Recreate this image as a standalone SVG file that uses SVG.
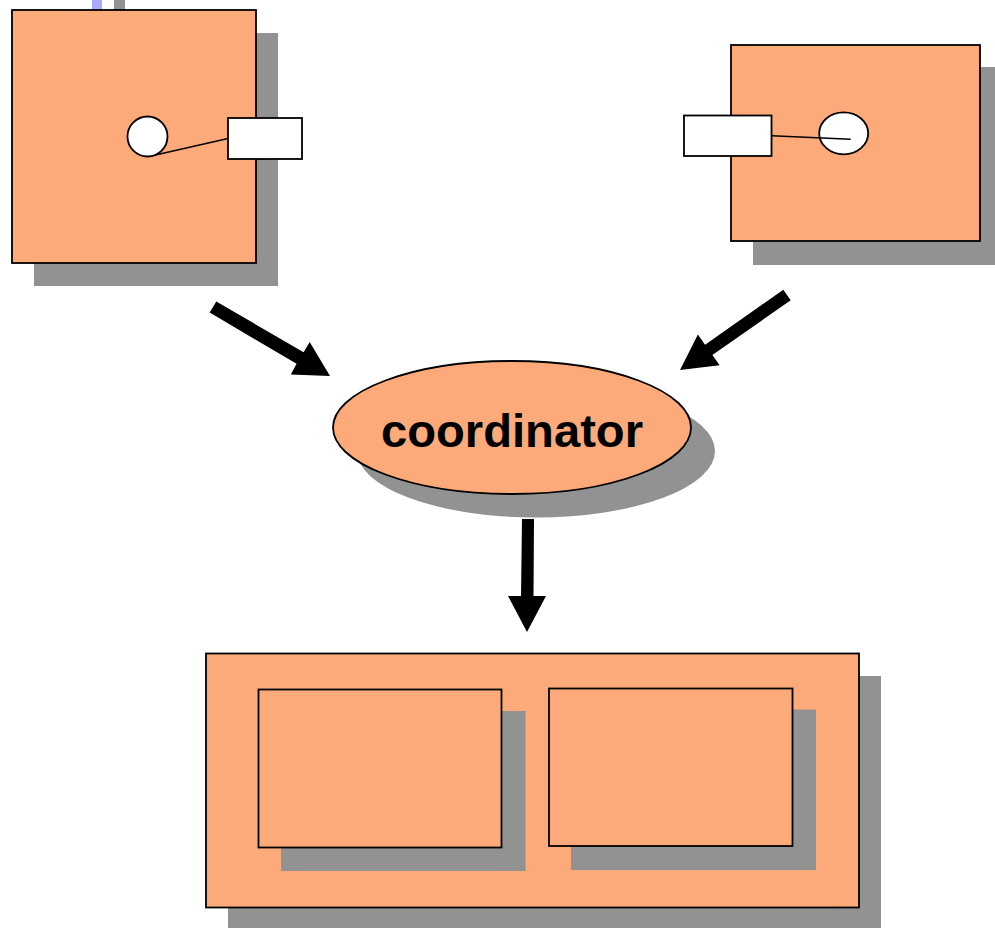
<svg xmlns="http://www.w3.org/2000/svg" width="995" height="928" viewBox="0 0 995 928">
<style>
.sh{fill:#929292;stroke:none}
.box{fill:#fcaa79;stroke:#000;stroke-width:1.8}
.port{fill:#fff;stroke:#000;stroke-width:1.8}
.ln{fill:none;stroke:#000;stroke-width:1.5}
.arr{fill:#000;stroke:none}
.lbl{font-family:"Liberation Sans",Arial,sans-serif;font-weight:bold;font-size:47px;fill:#000}
</style>
<rect width="995" height="928" fill="#fff"/>
<g id="node-top-left">
<rect class="sh" x="114" y="-10" width="11" height="30"/>
<rect x="92" y="-10" width="10" height="20" fill="#aaaaff"/>
<rect class="sh" x="34" y="33" width="244" height="253"/>
<rect class="box" x="12" y="10" width="244" height="253"/>
<line class="ln" x1="151" y1="156" x2="228" y2="138.5"/>
<circle class="port" cx="147.5" cy="136.5" r="20"/>
<rect class="port" x="228" y="118" width="74" height="41"/>
</g>
<g id="node-top-right">
<rect class="sh" x="753" y="67" width="249" height="198"/>
<rect class="box" x="731" y="45" width="249" height="196"/>
<ellipse class="port" cx="843.7" cy="133.3" rx="24.5" ry="21"/>
<line class="ln" x1="771.7" y1="135.7" x2="850.7" y2="139.3"/>
<rect class="port" x="684" y="115.5" width="87.5" height="40.5"/>
</g>
<g id="node-coordinator">
<ellipse class="sh" cx="536" cy="451" rx="179" ry="66.5"/>
<ellipse class="box" cx="512" cy="427.5" rx="179" ry="66.5"/>
<text class="lbl" x="512" y="447" text-anchor="middle" textLength="262" lengthAdjust="spacingAndGlyphs">coordinator</text>
</g>
<g id="node-bottom">
<rect class="sh" x="228" y="676" width="653" height="260"/>
<rect class="box" x="206" y="653.5" width="653" height="254"/>
<g id="node-bottom-left">
<rect class="sh" x="281" y="711" width="244.5" height="160"/>
<rect class="box" x="258.5" y="689.5" width="243" height="158"/>
</g>
<g id="node-bottom-right">
<rect class="sh" x="571" y="709.5" width="245" height="160.5"/>
<rect class="box" x="549" y="688.5" width="243.5" height="157.5"/>
</g>
</g>
<g id="connectors">
<polygon class="arr" points="209.7,312.6 296.6,363.8 290.8,374.5 330,376 309.7,341.9 303.6,352.3 216.3,301.4"/>
<polygon class="arr" points="783.3,289.8 705.1,344.7 697.9,334.4 680,370 719.6,365.3 712.4,355.1 790.7,300.2"/>
<polygon class="arr" points="522,519 534,519 533.5,596 546,596 527,632 508,596 521,596"/>
</g>
</svg>
